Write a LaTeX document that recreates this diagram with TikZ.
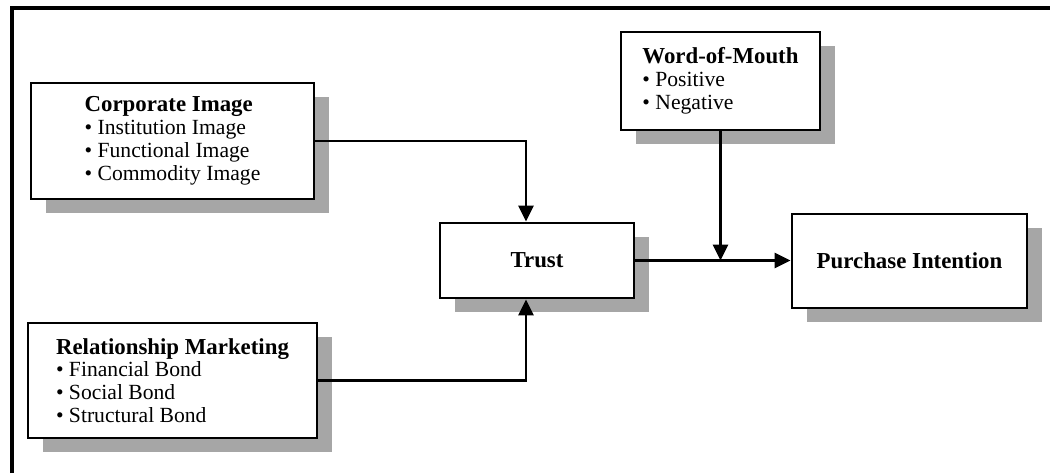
\documentclass[tikz,border=0pt]{standalone}
\usepackage{fontspec}
\setmainfont{Liberation Serif}
\usepackage{tikz}
\usetikzlibrary{positioning,calc,shadows,arrows.meta}
\tikzset{
  box/.style={draw,line width=1.7pt,fill=white,align=left,inner sep=0pt,
    drop shadow={shadow xshift=0.3cm,shadow yshift=-0.28cm,fill=black!35,opacity=1},
    font=\fontsize{12.3}{13}\selectfont},
  conn/.style={line width=1.4pt},
}
\newcommand{\boxtitle}[1]{{\fontsize{13}{14}\selectfont\bfseries #1}}

\begin{document}
\begin{tikzpicture}[>={Triangle[length=9pt,width=8.5pt]}]
  \useasboundingbox (0,0) rectangle (21,-9.46);
  \draw[line width=2.3pt] (0.24,-9.46) |- (21,-0.16);
  \node[box,minimum width=5.66cm,minimum height=2.32cm] (ci) at (3.45,-2.82) {\boxtitle{Corporate Image}\\• Institution Image\\• Functional Image\\• Commodity Image};
  \node[box,minimum width=5.78cm,minimum height=2.30cm] (rm) at (3.45,-7.61) {\boxtitle{Relationship Marketing}\\• Financial Bond\\• Social Bond\\• Structural Bond};
  \node[box,minimum width=3.98cm,minimum height=1.96cm] (wom) at (14.41,-1.62) {\boxtitle{Word-of-Mouth}\\• Positive\\• Negative};
  \node[box,minimum width=3.88cm,minimum height=1.50cm] (trust) at (10.74,-5.21) {\boxtitle{Trust}};
  \node[box,minimum width=4.70cm,minimum height=1.88cm] (pi) at (18.19,-5.22) {\boxtitle{Purchase Intention}};
  \coordinate (tin) at ([xshift=-0.22cm]trust.north);
  \coordinate (tout) at ([xshift=-0.22cm]trust.south);
  \coordinate (mid) at (wom.south |- trust.east);
  \draw[conn,->] (ci.east) -| (tin);
  \draw[conn,->] (rm.east) -| (tout);
  \draw[conn,->] (trust.east) -- (trust.east -| pi.west);
  \draw[conn,->] (wom.south) -- (mid);
\end{tikzpicture}
\end{document}
